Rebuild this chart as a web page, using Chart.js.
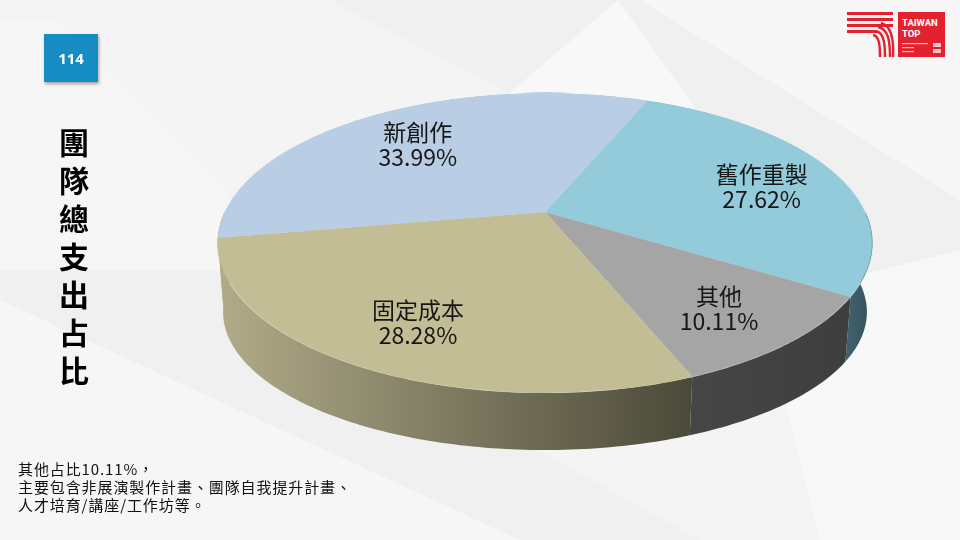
<!DOCTYPE html>
<html>
<head>
<meta charset="utf-8">
<script src="https://cdn.jsdelivr.net/npm/chart.js@4"></script>
<style>
  html, body { margin: 0; padding: 0; }
  body { width: 960px; height: 540px; overflow: hidden; position: relative; background: #f0f0f0; font-family: "Noto Sans CJK TC", "Noto Sans", sans-serif; }
  #bg { position: absolute; left: 0; top: 0; }
  #pie { position: absolute; left: 0; top: 0; }
  .badge { position: absolute; left: 44px; top: 34px; width: 54px; height: 48px; background: #178cc2; color: #fff; font: bold 15px "Open Sans", sans-serif; display: flex; align-items: center; justify-content: center; box-shadow: 1px 2px 3px rgba(0,0,0,0.35); }
  .tch { position: absolute; left: 56px; width: 36px; height: 34px; font-weight: 700; font-size: 30px; line-height: 34px; color: #000; text-align: center; }
  .note { position: absolute; left: 18px; height: 17px; font-size: 15px; line-height: 17px; color: #111; letter-spacing: 0.9px; white-space: nowrap; }
  #logo { position: absolute; left: 845px; top: 10px; }
</style>
</head>
<body>
<svg id="bg" width="960" height="540">
  <polygon points="0,0 330,0 960,330 960,540 700,540 0,150" fill="#f4f4f4"/>
  <polygon points="0,20 60,20 300,270 0,270" fill="#f6f6f6"/>
  <polygon points="618,0 420,170 740,170" fill="#f8f8f8"/>
  <polygon points="640,0 960,0 960,200" fill="#f6f6f6"/>
  <polygon points="0,300 520,540 0,540" fill="#f6f6f6"/>
  <polygon points="760,300 960,250 960,540 820,540" fill="#f8f8f8"/>
</svg>
<canvas id="pie" width="960" height="540"></canvas>
<div class="badge">114</div>
<div class="tch" style="top:124px">團</div>
<div class="tch" style="top:162px">隊</div>
<div class="tch" style="top:200px">總</div>
<div class="tch" style="top:238px">支</div>
<div class="tch" style="top:276px">出</div>
<div class="tch" style="top:314px">占</div>
<div class="tch" style="top:352px">比</div>
<div class="note" style="top:460px">其他占比10.11%，</div>
<div class="note" style="top:478px">主要包含非展演製作計畫、團隊自我提升計畫、</div>
<div class="note" style="top:496px">人才培育/講座/工作坊等。</div>
<svg id="logo" width="104" height="50">
  <g fill="#e3212f">
    <rect x="2" y="2" width="46" height="3"/>
    <rect x="2" y="8" width="46" height="3"/>
    <rect x="2" y="14" width="46" height="3"/>
    <rect x="2" y="20" width="30" height="3"/>
    <rect x="53" y="2" width="47" height="45"/>
  </g>
  <g fill="none" stroke="#e3212f" stroke-width="2.4">
    <path d="M30 21 C38 22 40 30 40 47"/>
    <path d="M33 17 C43 19 45 30 45 47"/>
    <path d="M36 13 C47 16 49 30 48 47"/>
    <path d="M28 25 C34 26 35 34 35 47"/>
  </g>
  <text x="57" y="16" fill="#fff" font-family="Roboto, sans-serif" font-weight="bold" font-size="9.5">TAIWAN</text>
  <text x="57" y="27" fill="#fff" font-family="Roboto, sans-serif" font-weight="bold" font-size="9.5">TOP</text>
  <g fill="#f6c0c4">
    <rect x="57" y="33" width="26" height="1.2"/>
    <rect x="57" y="37" width="12" height="1.2"/>
    <rect x="57" y="41" width="12" height="1.2"/>
    <rect x="88" y="33" width="8" height="4"/>
    <rect x="88" y="39" width="8" height="4"/>
  </g>
</svg>
<script>
const categories = ['新創作', '舊作重製', '其他', '固定成本'];
const shares = [33.99, 27.62, 10.11, 28.28];
const valueLabels = ['33.99%', '27.62%', '10.11%', '28.28%'];

const topColors = ['#b9cde4', '#93cbdb', '#a5a5a5', '#c3bd96'];
const sideLeft = ['#b3ad8b', '#3f5f6b', '#464646', '#b1ab88'];
const sideRight = ['#b3ad8b', '#36515b', '#3e3e3e', '#4b4939'];

// tilted disc seen in perspective: screen centre, half width, half height, perspective
const CX = 545, CY = 212, SX = 320.4, SY = 143.6, PERSP = 0.2067;
// lower rim: a bit narrower and flatter, pushed down
const BOT_Y = 283.5, BOT_KX = 0.983, BOT_KY = 0.92;

function project(u, w) {
  const d = 1 - PERSP * w;
  return [CX + SX * u / d, CY + SY * w / d];
}
function lowerRim(p) {
  return [CX + (p[0] - CX) * BOT_KX, BOT_Y + (p[1] - CY) * BOT_KY];
}
function depthAt(y) {
  const q = (y - CY) / SY;
  return Math.max(-1, Math.min(1, q / (1 + PERSP * q)));
}
function frontSpans(s, e) {
  const out = [];
  for (let k = -2; k <= 2; k++) {
    const lo = Math.max(s, 2 * Math.PI * k);
    const hi = Math.min(e, 2 * Math.PI * k + Math.PI);
    if (hi > lo) out.push([lo, hi]);
  }
  return out;
}

const pie3d = {
  id: 'pie3d',
  afterDatasetsDraw(chart) {
    const canvas = chart.canvas, ctx = chart.ctx;
    const dpr = chart.currentDevicePixelRatio || 1;
    const meta = chart.getDatasetMeta(0);
    const R = meta.data[0].outerRadius, ox = meta.data[0].x, oy = meta.data[0].y;

    // keep the flat pie Chart.js just drew, then wipe the canvas
    const flat = document.createElement('canvas');
    flat.width = canvas.width;
    flat.height = canvas.height;
    flat.getContext('2d').drawImage(canvas, 0, 0);
    ctx.save();
    ctx.setTransform(1, 0, 0, 1, 0, 0);
    ctx.clearRect(0, 0, canvas.width, canvas.height);
    ctx.restore();

    // side walls of the front half
    meta.data.forEach((arc, i) => {
      frontSpans(arc.startAngle, arc.endAngle).forEach(([a, b]) => {
        const n = Math.max(8, Math.ceil((b - a) * 60));
        const rim = [];
        for (let j = 0; j <= n; j++) {
          const t = a + (b - a) * j / n;
          rim.push(project(Math.cos(t), Math.sin(t)));
        }
        const xs = rim.map(p => p[0]);
        const g = ctx.createLinearGradient(Math.min(...xs), 0, Math.max(...xs), 0);
        g.addColorStop(0, sideLeft[i]);
        g.addColorStop(1, sideRight[i]);
        ctx.beginPath();
        rim.forEach((p, j) => j ? ctx.lineTo(p[0], p[1]) : ctx.moveTo(p[0], p[1]));
        for (let j = rim.length - 1; j >= 0; j--) {
          const q = lowerRim(rim[j]);
          ctx.lineTo(q[0], q[1]);
        }
        ctx.closePath();
        ctx.fillStyle = g;
        ctx.fill();
      });
    });

    // top face: map the flat pie row by row onto the tilted disc
    ctx.save();
    ctx.setTransform(1, 0, 0, 1, 0, 0);
    const yTop = project(0, -1)[1], yBot = project(0, 1)[1];
    for (let yd = Math.floor(yTop * dpr); yd < Math.ceil(yBot * dpr); yd++) {
      const w0 = depthAt(yd / dpr), w1 = depthAt((yd + 1) / dpr);
      const k = SX / (R * (1 - PERSP * (w0 + w1) / 2));
      const sy0 = (oy + R * w0) * dpr, sy1 = (oy + R * w1) * dpr;
      ctx.drawImage(flat, (ox - R) * dpr, sy0, 2 * R * dpr, Math.max(sy1 - sy0, 0.5),
        (CX - R * k) * dpr, yd, 2 * R * k * dpr, 1);
    }
    ctx.restore();

    // slice labels
    ctx.save();
    ctx.fillStyle = '#161616';
    ctx.textAlign = 'center';
    ctx.textBaseline = 'middle';
    ctx.font = '23px "Noto Sans CJK TC"';
    meta.data.forEach((arc, i) => {
      const m = (arc.startAngle + arc.endAngle) / 2;
      const [lx, ly] = project(0.73 * Math.cos(m), 0.73 * Math.sin(m));
      ctx.fillText(categories[i], lx + 4, ly - 7);
      ctx.fillText(valueLabels[i], lx + 4, ly + 18);
    });
    ctx.restore();
  }
};

new Chart(document.getElementById('pie'), {
  type: 'pie',
  data: {
    labels: categories,
    datasets: [{
      data: shares,
      backgroundColor: topColors,
      borderWidth: 0,
      clip: false
    }]
  },
  options: {
    responsive: false,
    animation: false,
    events: [],
    rotation: -100,
    layout: { padding: { left: 217, right: 87, top: 0, bottom: 0 } },
    plugins: {
      legend: { display: false },
      tooltip: { enabled: false }
    }
  },
  plugins: [pie3d]
});
</script>
</body>
</html>
